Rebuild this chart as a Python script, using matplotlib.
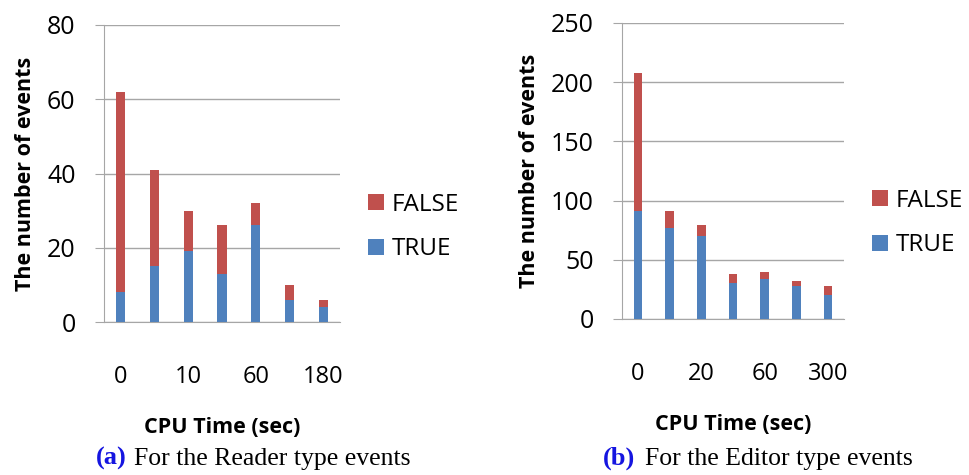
import matplotlib.pyplot as plt
import numpy as np

# Data
reader_labels = ['0', '', '10', '', '60', '', '180']
reader_true = [8, 15, 19, 13, 26, 6, 4]
reader_false = [54, 26, 11, 13, 6, 4, 2]

editor_labels = ['0', '', '20', '', '60', '', '300']
editor_true = [91, 77, 70, 30, 34, 28, 20]
editor_false = [117, 14, 9, 8, 6, 4, 8]

red = '#C0504D'
blue = '#4F81BD'
grid_c = '#A6A6A6'

W, H = 970, 475
fig = plt.figure(figsize=(W / 100, H / 100), dpi=100)
plt.rcParams['font.family'] = ['Open Sans', 'DejaVu Sans']


def px_axes(x0, y0, x1, y1):
    return fig.add_axes([x0 / W, (H - y1) / H, (x1 - x0) / W, (y1 - y0) / H])


def draw(ax, labels, true_vals, false_vals, ymax, ystep):
    x = np.arange(len(labels))
    ax.bar(x, true_vals, width=0.27, color=blue, label='TRUE', zorder=3)
    ax.bar(x, false_vals, width=0.27, bottom=true_vals, color=red, label='FALSE', zorder=3)
    ax.set_xlim(-0.5, len(labels) - 0.5)
    ax.set_ylim(0, ymax)
    ax.set_yticks(np.arange(0, ymax + 1, ystep))
    ax.set_xticks(x)
    ax.set_xticklabels(labels)
    ax.grid(axis='y', color=grid_c, linewidth=1, zorder=0)
    for s in ['top', 'right']:
        ax.spines[s].set_visible(False)
    ax.spines['left'].set_color(grid_c)
    ax.spines['bottom'].set_color(grid_c)
    ax.tick_params(axis='y', length=6.5, color=grid_c, pad=14, labelsize=18)
    ax.tick_params(axis='x', length=0, pad=31, labelsize=17)
    ax.set_ylabel('The number of events', fontsize=15.5, fontweight='bold', labelpad=8)
    ax.set_xlabel('CPU Time (sec)', fontsize=15.5, fontweight='bold', labelpad=20)
    h, l = ax.get_legend_handles_labels()
    return h[::-1], l[::-1]


leg_kw = dict(loc='center left', frameon=False, fontsize=17.5, borderpad=0, borderaxespad=0,
              handlelength=0.66, handleheight=0.66, handletextpad=0.3, labelspacing=0.85)

ax1 = px_axes(104, 25, 340, 322)
h, l = draw(ax1, reader_labels, reader_true, reader_false, 80, 20)
fig.legend(h, l, bbox_to_anchor=(368 / W, 1 - 227 / H), **leg_kw)

ax2 = px_axes(622, 23, 844, 319)
h, l = draw(ax2, editor_labels, editor_true, editor_false, 250, 50)
fig.legend(h, l, bbox_to_anchor=(872 / W, 1 - 223 / H), **leg_kw)

# Captions
serif = ['Liberation Serif', 'DejaVu Serif']
fig.text(96 / W, 1 - 465 / H, '(a)', color='#1515E0', fontweight='bold', fontsize=19,
         family=serif, va='baseline')
fig.text(134 / W, 1 - 465 / H, 'For the Reader type events', fontsize=18.5, family=serif, va='baseline')
fig.text(603 / W, 1 - 465 / H, '(b)', color='#1515E0', fontweight='bold', fontsize=19,
         family=serif, va='baseline')
fig.text(645 / W, 1 - 465 / H, 'For the Editor type events', fontsize=18.5, family=serif, va='baseline')

fig.savefig('out.png', dpi=100)
